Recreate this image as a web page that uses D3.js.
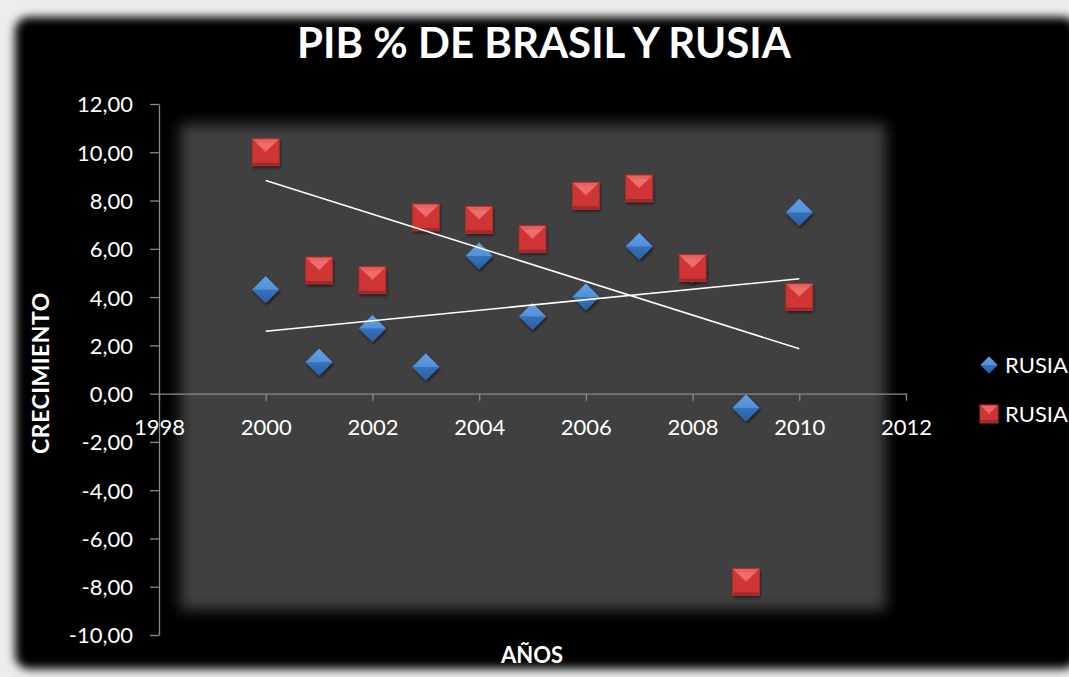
<!DOCTYPE html>
<html>
<head>
<meta charset="utf-8">
<script src="https://cdn.jsdelivr.net/npm/d3@7"></script>
<style>
  html, body { margin: 0; padding: 0; background: #ededed; }
  svg { display: block; }
  text { font-family: Lato, "Open Sans", sans-serif; fill: #fff; }
</style>
</head>
<body>
<svg id="chart" width="1069" height="677"></svg>
<script>
// ---- data ----
const years = [2000, 2001, 2002, 2003, 2004, 2005, 2006, 2007, 2008, 2009, 2010];
const brasil = [4.3, 1.3, 2.7, 1.1, 5.7, 3.2, 4.0, 6.1, 5.1, -0.6, 7.5];
const rusia = [10.0, 5.1, 4.7, 7.3, 7.2, 6.4, 8.2, 8.5, 5.2, -7.8, 4.0];
const yTicks = [-10, -8, -6, -4, -2, 0, 2, 4, 6, 8, 10, 12];
const xTicks = [1998, 2000, 2002, 2004, 2006, 2008, 2010, 2012];
const legendLabels = ["RUSIA", "RUSIA"];

const svg = d3.select("#chart");
const defs = svg.append("defs");

defs.append("filter").attr("id", "blurPanel")
  .attr("x", "-10%").attr("y", "-10%").attr("width", "120%").attr("height", "120%")
  .append("feGaussianBlur").attr("stdDeviation", 5);

defs.append("filter").attr("id", "blurPlot")
  .attr("x", "-10%").attr("y", "-10%").attr("width", "120%").attr("height", "120%")
  .append("feGaussianBlur").attr("stdDeviation", 7);

const shadow = defs.append("filter").attr("id", "mshadow")
  .attr("x", "-40%").attr("y", "-40%").attr("width", "180%").attr("height", "180%");
shadow.append("feDropShadow").attr("dx", 1).attr("dy", 2).attr("stdDeviation", 1.5)
  .attr("flood-color", "#000").attr("flood-opacity", 0.6);

// blue diamond gradient
const gb = defs.append("linearGradient").attr("id", "gBlue")
  .attr("x1", 0).attr("y1", 0).attr("x2", 0).attr("y2", 1);
gb.append("stop").attr("offset", "0%").attr("stop-color", "#6aa8e8");
gb.append("stop").attr("offset", "50%").attr("stop-color", "#3f7fcc");
gb.append("stop").attr("offset", "100%").attr("stop-color", "#2a5d9e");

// ---- background panel ----
svg.append("rect")
  .attr("x", 15).attr("y", 17).attr("width", 1062).attr("height", 652)
  .attr("rx", 14).attr("fill", "#000").attr("filter", "url(#blurPanel)");

svg.append("rect")
  .attr("x", 180).attr("y", 124).attr("width", 706).attr("height", 486)
  .attr("fill", "#404040").attr("filter", "url(#blurPlot)");

// ---- scales ----
const x = d3.scaleLinear().domain([1998, 2012]).range([159, 906]);
const y = d3.scaleLinear().domain([-10, 12]).range([635, 104]);

const fmt = d => d.toFixed(2).replace(".", ",");

// y axis
const yAxis = svg.append("g")
  .attr("transform", `translate(${x(1998)},0)`)
  .call(d3.axisLeft(y).tickValues(yTicks).tickFormat(fmt).tickSize(9).tickSizeOuter(0).tickPadding(17));

// x axis
const xAxis = svg.append("g")
  .attr("transform", `translate(0,${y(0)})`)
  .call(d3.axisBottom(x).tickValues(xTicks).tickFormat(d3.format("d")).tickSize(7).tickSizeOuter(0).tickPadding(19));

[yAxis, xAxis].forEach(a => {
  a.select(".domain").attr("stroke", "#8a8a8a").attr("stroke-width", 1.3);
  a.selectAll(".tick line").attr("stroke", "#8a8a8a").attr("stroke-width", 1.3);
  a.selectAll(".tick text").attr("fill", "#fff").attr("font-size", 22)
    .style("font-family", "Lato, 'Open Sans', sans-serif");
});
yAxis.selectAll(".tick text").attr("dy", "0.36em");

// ---- markers ----
function diamond(g, cx, cy, s) {
  const h = s / 2;
  g.append("path")
    .attr("d", `M${cx},${cy - h}L${cx + h},${cy}L${cx},${cy + h}L${cx - h},${cy}Z`)
    .attr("fill", "url(#gBlue)").attr("filter", "url(#mshadow)");
  g.append("path")
    .attr("d", `M${cx - h},${cy}L${cx},${cy - h}L${cx + h},${cy}Z`)
    .attr("fill", "#5d9be0").attr("opacity", 0.6);
  g.append("path")
    .attr("d", `M${cx - h},${cy}L${cx + h},${cy}L${cx},${cy + h}Z`)
    .attr("fill", "#2b62a8").attr("opacity", 0.45);
}

function square(g, cx, cy, s) {
  const h = s / 2, b = 4;
  g.append("rect")
    .attr("x", cx - h).attr("y", cy - h).attr("width", s).attr("height", s)
    .attr("fill", "#cf3535").attr("filter", "url(#mshadow)");
  // top bevel (lighter triangle)
  g.append("path")
    .attr("d", `M${cx - h},${cy - h}L${cx + h},${cy - h}L${cx},${cy}Z`)
    .attr("fill", "#e8605f");
  g.append("path")
    .attr("d", `M${cx - h + b},${cy - h + b}L${cx + h - b},${cy - h + b}L${cx},${cy - 2}Z`)
    .attr("fill", "#ee7370").attr("opacity", 0.8);
  // bottom edge
  g.append("rect")
    .attr("x", cx - h).attr("y", cy + h - 3).attr("width", s).attr("height", 3)
    .attr("fill", "#9e2a2a");
  g.append("rect")
    .attr("x", cx - h).attr("y", cy - h).attr("width", s).attr("height", s)
    .attr("fill", "none").attr("stroke", "#a83030").attr("stroke-width", 1);
}

const gBlue = svg.append("g");
years.forEach((yr, i) => diamond(gBlue, x(yr), y(brasil[i]), 27));

const gRed = svg.append("g");
years.forEach((yr, i) => square(gRed, x(yr), y(rusia[i]), 27));

// ---- linear trend lines ----
function trend(vals) {
  const mx = d3.mean(years), my = d3.mean(vals);
  const sxy = d3.sum(years, (v, i) => (v - mx) * (vals[i] - my));
  const sxx = d3.sum(years, v => (v - mx) ** 2);
  const b = sxy / sxx;
  const a = my - b * mx;
  const ends = [d3.min(years), d3.max(years)];
  return ends.map(t => [t, a + b * t]);
}

const line = d3.line().x(d => x(d[0])).y(d => y(d[1]));
[brasil, rusia].forEach(vals => {
  svg.append("path")
    .attr("d", line(trend(vals)))
    .attr("stroke", "#fff").attr("stroke-width", 1.6).attr("fill", "none");
});

// ---- titles ----
svg.append("text")
  .attr("x", 544).attr("y", 58)
  .attr("text-anchor", "middle")
  .attr("font-size", 42).attr("font-weight", "bold")
  .text("PIB % DE BRASIL Y RUSIA");

svg.append("text")
  .attr("transform", "translate(49,373) rotate(-90)")
  .attr("text-anchor", "middle")
  .attr("font-size", 23).attr("font-weight", "bold")
  .attr("letter-spacing", 0.5)
  .text("CRECIMIENTO");

svg.append("text")
  .attr("x", 532).attr("y", 663)
  .attr("text-anchor", "middle")
  .attr("font-size", 22).attr("font-weight", "bold")
  .text("AÑOS");

// ---- legend ----
const leg = svg.append("g");
diamond(leg, 989, 365, 17);
square(leg, 989, 414, 18);
leg.selectAll("text.lg").data(legendLabels).join("text")
  .attr("class", "lg")
  .attr("x", 1005).attr("y", (d, i) => 365 + i * 49)
  .attr("dy", "0.36em")
  .attr("font-size", 22)
  .text(d => d);
</script>
</body>
</html>
